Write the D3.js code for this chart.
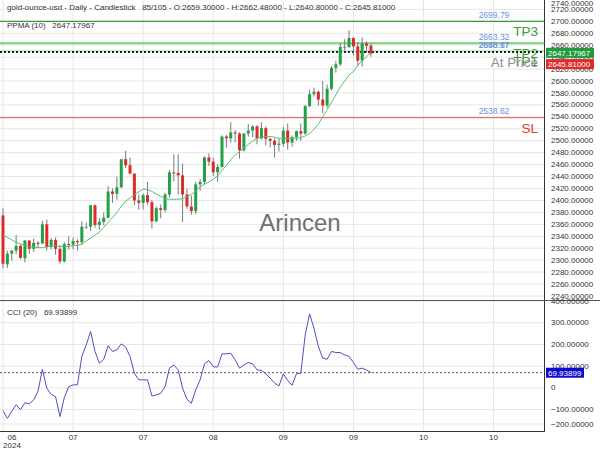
<!DOCTYPE html>
<html><head><meta charset="utf-8">
<script src="https://cdn.jsdelivr.net/npm/d3@7"></script>
<style>body{margin:0;background:#fff}svg{display:block;font-family:"Liberation Sans",Arial,sans-serif}</style>
</head><body><svg id="c" width="600" height="450"></svg>
<script>
// ---- data ----
const opens  = [2375,2293,2311,2316,2324,2303,2333,2319,2329,2328,2360,2322,2334,2319,2298,2327,2326,2332,2330,2356,2356,2392,2359,2364,2371,2415,2411,2422,2469,2459,2445,2400,2396,2409,2397,2365,2387,2384,2410,2447,2446,2442,2410,2390,2382,2427,2431,2472,2465,2447,2456,2507,2504,2514,2512,2484,2512,2517,2524,2504,2521,2503,2500,2493,2495,2517,2497,2506,2516,2512,2558,2578,2582,2569,2559,2587,2622,2628,2657,2657,2672,2658,2634,2663,2659.3];
const highs  = [2387,2316,2317,2342,2326,2333,2333,2336,2332,2366,2368,2337,2338,2325,2330,2340,2338,2335,2365,2363,2392,2393,2370,2380,2424,2420,2440,2469,2483,2472,2445,2410,2412,2431,2401,2390,2393,2413,2451,2477,2477,2462,2420,2408,2431,2436,2474,2479,2472,2461,2509,2510,2531,2518,2514,2513,2528,2526,2526,2531,2524,2505,2504,2504,2523,2529,2509,2517,2529,2560,2586,2589,2584,2600,2594,2625,2634,2664,2670,2685,2674,2665,2673,2667,2662.48];
const lows   = [2286,2287,2299,2310,2301,2296,2311,2314,2321,2327,2316,2318,2309,2294,2296,2318,2318,2316,2326,2352,2349,2354,2351,2358,2370,2396,2401,2421,2454,2444,2392,2384,2385,2393,2353,2364,2370,2380,2405,2432,2410,2364,2386,2376,2377,2416,2427,2458,2441,2431,2455,2488,2497,2497,2470,2482,2507,2506,2494,2502,2492,2489,2472,2482,2490,2485,2490,2500,2500,2510,2556,2574,2559,2546,2555,2584,2614,2625,2651,2655,2643,2625,2624,2647,2640.8];
const closes = [2294,2311,2316,2324,2304,2333,2319,2329,2328,2360,2322,2334,2319,2298,2327,2326,2332,2330,2356,2356,2392,2359,2364,2371,2415,2411,2422,2469,2459,2445,2400,2396,2409,2397,2365,2387,2384,2410,2447,2446,2442,2410,2390,2382,2427,2431,2472,2465,2447,2456,2507,2504,2514,2512,2484,2512,2517,2524,2504,2521,2503,2500,2493,2495,2517,2497,2506,2516,2512,2558,2578,2582,2569,2559,2587,2622,2628,2657,2657,2672,2658,2634,2663,2659,2645.81];
const ppma   = [2342,2338,2334,2330,2327,2325,2323,2322,2321,2321,2322,2324,2324,2323,2323,2323,2324,2325,2327,2332,2337,2342,2347,2355,2363,2371,2380,2390,2399,2404,2410,2414,2419,2418,2415,2411,2407,2403,2402,2402,2402,2403,2406,2410,2416,2423,2427,2431,2436,2441,2450,2459,2468,2476,2482,2488,2494,2499,2504,2506,2507,2507,2506,2504,2504,2504,2504,2504,2505,2508,2512,2519,2528,2540,2552,2564,2577,2590,2600,2610,2616,2626,2634,2641,2647.17967];
const cci    = [-105,-140,-108,-78,-100,-68,-74,-55,-15,86,-2,-30,-40,-132,-45,6,14,14,145,198,260,168,114,132,194,168,175,203,188,145,68,37,37,37,-37,-32,-25,6,91,106,83,-1,-52,-71,-9,37,111,126,98,96,157,157,160,129,91,106,117,111,83,81,65,45,22,9,65,34,12,65,68,245,341,275,191,137,132,168,163,163,152,145,117,86,91,83,69.93899];
const xTickIdx    = [0,16,32,48,64,80,96,112];
const xTickLabels = ["06","07","07","08","09","09","10","10"];
const priceTicks  = d3.range(2240, 2741, 20);
const cciTicks    = [-200,-100,0,100,200,300,400];
const levelNames  = ["TP3","TP2","TP1","At Price","SL"];
const levelValues = [2699.79,2663.32,2650.17,2648.67,2538.62];
const levelColors = ["#3c9a3c","#7ccf7c","#9bd89b","#555555","#e57373"];
const labelColors = ["#3c9a3c","#3c9a3c","#3c9a3c","#909090","#e03c3c"];

// ---- layout ----
const svg = d3.select("#c");
const W = 600, axisX = 544, pTop = 0, pBot = 299, cTop = 300, cBot = 432;
const x  = d3.scaleLinear().domain([0, 124]).range([3, 3 + 124 * 4.38]);
const yP = d3.scaleLinear().domain([2240, 2700]).range([296, 21.3]);
const yC = d3.scaleLinear().domain([-200, 300]).range([431.3, 322.8]);

const defs = svg.append("defs");
defs.append("clipPath").attr("id","cp").append("rect").attr("x",0).attr("y",pTop).attr("width",axisX).attr("height",pBot-pTop);
defs.append("clipPath").attr("id","cc").append("rect").attr("x",0).attr("y",cTop).attr("width",axisX).attr("height",cBot-cTop);

// grid
const g = svg.append("g");
g.selectAll(".hp").data(priceTicks).join("line").attr("x1",0).attr("x2",axisX)
  .attr("y1",d=>yP(d)).attr("y2",d=>yP(d)).attr("stroke","#e6e6e6").attr("clip-path","url(#cp)");
g.selectAll(".hc").data(cciTicks).join("line").attr("x1",0).attr("x2",axisX)
  .attr("y1",d=>Math.min(yC(d),424)).attr("y2",d=>Math.min(yC(d),424)).attr("stroke","#e6e6e6").attr("clip-path","url(#cc)");
g.selectAll(".v").data(xTickIdx).join("line").attr("x1",d=>x(d)).attr("x2",d=>x(d))
  .attr("y1",0).attr("y2",cBot).attr("stroke","#e6e6e6");

// watermark
svg.append("text").attr("x",300).attr("y",231).attr("text-anchor","middle")
  .attr("font-size",24).attr("fill","#707070").text("Arincen");

// level lines
const lv = svg.append("g").attr("clip-path","url(#cp)");
levelValues.forEach((v,i)=>{
  if (levelNames[i]==="At Price") {
    lv.append("line").attr("x1",0).attr("x2",axisX).attr("y1",yP(v)).attr("y2",yP(v))
      .attr("stroke","#222").attr("stroke-width",2).attr("stroke-dasharray","2,2");
  } else {
    lv.append("line").attr("x1",0).attr("x2",axisX).attr("y1",yP(v)).attr("y2",yP(v))
      .attr("stroke",levelColors[i]).attr("stroke-width",i===1?2:1.2);
  }
  lv.append("text").attr("x",494).attr("y",yP(v)-3.5).attr("text-anchor","middle")
    .attr("font-size",8.5).attr("fill","#6f8fe6").text(d3.format(".2f")(v));
  lv.append("text").attr("x",538).attr("y",yP(v)+15).attr("text-anchor","end")
    .attr("font-size",13.5).attr("fill",labelColors[i]).text(levelNames[i]);
});

// candles
const cg = svg.append("g").attr("clip-path","url(#cp)");
const idx = d3.range(closes.length);
const col = i => Math.abs(closes[i]-opens[i]) < 1 ? "#8a8a8a" : (closes[i] > opens[i] ? "#22a045" : "#dc2b2b");
cg.selectAll(".w").data(idx).join("line")
  .attr("x1",i=>x(i)).attr("x2",i=>x(i)).attr("y1",i=>yP(highs[i])).attr("y2",i=>yP(lows[i]))
  .attr("stroke","#7a7a7a").attr("stroke-width",1);
cg.selectAll(".b").data(idx).join("rect")
  .attr("x",i=>x(i)-1.5).attr("width",3)
  .attr("y",i=>yP(Math.max(opens[i],closes[i])))
  .attr("height",i=>Math.max(1, Math.abs(yP(opens[i])-yP(closes[i]))))
  .attr("fill",col);

// ppma
cg.append("path").datum(idx).attr("fill","none").attr("stroke","#5cbf72").attr("stroke-width",1)
  .attr("d", d3.line().x(i=>x(i)).y(i=>yP(ppma[i])));

// cci panel
const cc = svg.append("g").attr("clip-path","url(#cc)");
const lastC = cci[cci.length-1];
cc.append("line").attr("x1",0).attr("x2",axisX).attr("y1",yC(lastC)).attr("y2",yC(lastC))
  .attr("stroke","#555").attr("stroke-dasharray","2,2");
cc.append("path").datum(idx).attr("fill","none").attr("stroke","#4f4fc4").attr("stroke-width",1)
  .attr("d", d3.line().x(i=>x(i)).y(i=>yC(cci[i])));

// frame lines
svg.append("line").attr("x1",axisX+0.5).attr("x2",axisX+0.5).attr("y1",0).attr("y2",cBot).attr("stroke","#333");
svg.append("line").attr("x1",0).attr("x2",W).attr("y1",cTop+0.5).attr("y2",cTop+0.5).attr("stroke","#555");
svg.append("line").attr("x1",0).attr("x2",axisX).attr("y1",cBot-0.5).attr("y2",cBot-0.5).attr("stroke","#333");

// right axes
const fmt5 = d3.format(".5f");
const ay = svg.append("g").attr("transform",`translate(${axisX},0)`)
  .call(d3.axisRight(yP).tickValues(priceTicks).tickSize(0).tickPadding(7).tickFormat(fmt5));
ay.select(".domain").remove();
ay.selectAll(".tick").attr("transform", d => `translate(0,${Math.max(yP(d), 3)})`);
const ac = svg.append("g").attr("transform",`translate(${axisX},0)`)
  .call(d3.axisRight(yC).tickValues(cciTicks).tickSize(0).tickPadding(7).tickFormat(d=>d===0?"0":fmt5(d)));
ac.select(".domain").remove();
ac.selectAll(".tick").attr("transform", d => `translate(0,${Math.min(yC(d), 424)})`);
svg.selectAll(".tick text").attr("font-size",8).attr("fill","#333").attr("font-family","Liberation Sans, Arial, sans-serif");

// price boxes
const lastP = ppma[ppma.length-1], lastClose = closes[closes.length-1];
function box(yc, fill, txt, w){
  svg.append("rect").attr("x",axisX+2).attr("y",yc-5).attr("width",w).attr("height",10).attr("fill",fill);
  svg.append("text").attr("x",axisX+4).attr("y",yc+3).attr("font-size",8).attr("fill","#fff").text(txt);
}
box(yP(lastP), "#1f9a3c", fmt5(lastP), 48);
box(yP(lastP)+11.3, "#e02b2b", fmt5(lastClose), 48);
box(yC(lastC), "#0b0bd0", d3.format(".5f")(lastC).replace(/0+$/,""), 38);

// x axis labels
const ax = svg.append("g");
ax.selectAll("text").data(xTickIdx).join("text")
  .attr("x",(d)=>Math.max(x(d),12)).attr("y",440).attr("text-anchor","middle")
  .attr("font-size",8).attr("fill","#333").text((d,i)=>xTickLabels[i]);
ax.append("text").attr("x",12).attr("y",448).attr("text-anchor","middle").attr("font-size",8).attr("fill","#333").text("2024");

// header texts
svg.append("text").attr("x",7).attr("y",10).attr("font-size",8).attr("fill","#333")
  .text("gold-ounce-usd - Daily - Candlestick\u00a0\u00a0\u00a085/105 - O:2659.30000 - H:2662.48000 - L:2640.80000 - C:2645.81000");
svg.append("text").attr("x",7).attr("y",28).attr("font-size",8).attr("fill","#333")
  .text("PPMA (10)\u00a0\u00a0\u00a0" + d3.format(".5f")(lastP));
svg.append("text").attr("x",7).attr("y",315).attr("font-size",8).attr("fill","#333")
  .text("CCI (20)\u00a0\u00a0\u00a0" + d3.format(".5f")(lastC));
</script></body></html>
